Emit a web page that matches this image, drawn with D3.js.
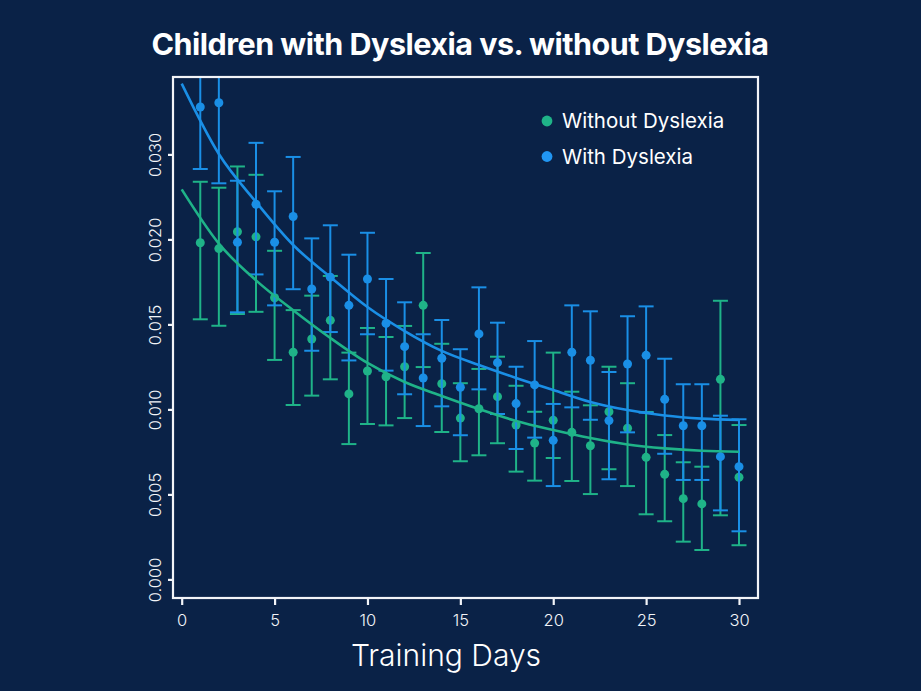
<!DOCTYPE html>
<html>
<head>
<meta charset="utf-8">
<script src="https://cdn.jsdelivr.net/npm/d3@7"></script>
<style>
  html, body { margin: 0; padding: 0; background: #0a2247; }
  svg { display: block; }
</style>
</head>
<body>
<svg id="chart" width="921" height="691"></svg>
<script>
// ---------- DATA ----------
const days = d3.range(1, 31);

// Children without dyslexia: mean, lower and upper error-bar ends
const withoutMean  = [0.01980,0.01946,0.02045,0.02015,0.01657,0.01336,0.01414,0.01524,0.01091,0.01226,
                      0.01192,0.01251,0.01612,0.01151,0.00949,0.01004,0.01075,0.00908,0.00802,0.00936,
                      0.00865,0.00786,0.00986,0.00889,0.00718,0.00618,0.00475,0.00444,0.01177,0.00601];
const withoutLower = [0.01530,0.01492,0.01561,0.01574,0.01291,0.01026,0.01081,0.01177,0.00796,0.00914,
                      0.00906,0.00949,0.01249,0.00867,0.00695,0.00730,0.00801,0.00634,0.00581,0.00714,
                      0.00579,0.00502,0.00648,0.00549,0.00383,0.00342,0.00222,0.00173,0.00377,0.00201];
const withoutUpper = [0.02339,0.02304,0.02429,0.02380,0.01933,0.01584,0.01669,0.01785,0.01334,0.01479,
                      0.01426,0.01491,0.01920,0.01386,0.01154,0.01238,0.01310,0.01139,0.00986,0.01334,
                      0.01104,0.01024,0.01251,0.01154,0.00985,0.00849,0.00689,0.00663,0.01639,0.00908];

// Children with dyslexia
const withMean  = [0.02779,0.02804,0.01983,0.02207,0.01983,0.02135,0.01708,0.01778,0.01612,0.01767,
                   0.01506,0.01369,0.01185,0.01301,0.01130,0.01444,0.01275,0.01034,0.01144,0.00818,
                   0.01336,0.01289,0.00934,0.01267,0.01318,0.01059,0.00904,0.00904,0.00722,0.00663];
const withLower = [0.02414,0.02330,0.01571,0.01794,0.01612,0.01707,0.01345,0.01455,0.01288,0.01442,
                   0.01228,0.01089,0.00902,0.01018,0.00848,0.01118,0.00973,0.00767,0.00834,0.00549,
                   0.01012,0.00939,0.00589,0.00865,0.00981,0.00739,0.00585,0.00585,0.00406,0.00283];
const withUpper = [0.03114,0.03202,0.02345,0.02568,0.02283,0.02485,0.02006,0.02083,0.01910,0.02039,
                   0.01767,0.01630,0.01442,0.01526,0.01354,0.01718,0.01510,0.01251,0.01402,0.01032,
                   0.01612,0.01577,0.01220,0.01548,0.01606,0.01298,0.01148,0.01148,0.00963,0.00942];

// Fitted trend curves, sampled every two days
const fitDays    = [0,2,4,6,8,10,12,14,16,18,20,22,24,26,28,30];
const withoutFit = [0.02294,0.01975,0.01759,0.01583,0.01420,0.01273,0.01161,0.01079,0.01002,0.00932,
                    0.00879,0.00832,0.00794,0.00771,0.00757,0.00751];
const withFit    = [0.02916,0.02502,0.02220,0.01967,0.01779,0.01602,0.01461,0.01344,0.01261,0.01185,
                    0.01114,0.01044,0.00996,0.00964,0.00946,0.00938];

// Axis ticks (labels exactly as printed on the reference)
const xTickValues = [0,5,10,15,20,25,30];
const yTickValues = [0,0.005,0.010,0.015,0.020,0.025];
const yTickLabels = ["0.000","0.005","0.010","0.015","0.020","0.030"];

const seriesNames = ["Without Dyslexia","With Dyslexia"];
const titleText = "Children with Dyslexia vs. without Dyslexia";
const xAxisTitle = "Training Days";

// ---------- LAYOUT / STYLE ----------
const W = 921, H = 691;
const frame = {left: 173, top: 77, right: 758, bottom: 598};
const colors = {bg: "#0a2247", green: "#1fb388", blue: "#1a8fe6", legendBlue: "#2196f3", text: "#ffffff", axis: "#f2f4f8"};
const fontFamily = "Inter, 'Noto Sans', Roboto, sans-serif";

const svg = d3.select("#chart");
svg.append("rect").attr("width", W).attr("height", H).attr("fill", colors.bg);

const x = d3.scaleLinear().domain([0, 30]).range([181.7, 739]);
const y = d3.scaleLinear().domain([0, 0.025]).range([579.4, 154.4]);

// Title
svg.append("text")
  .attr("x", 460).attr("y", 55)
  .attr("text-anchor", "middle")
  .attr("fill", colors.text)
  .attr("font-family", fontFamily)
  .attr("font-weight", 700)
  .attr("font-size", 30.5)
  .attr("letter-spacing", -0.5)
  .text(titleText);

// clip to the plot frame
svg.append("clipPath").attr("id", "plotClip")
  .append("rect")
  .attr("x", frame.left).attr("y", frame.top)
  .attr("width", frame.right - frame.left).attr("height", frame.bottom - frame.top);

const plot = svg.append("g").attr("clip-path", "url(#plotClip)");

const series = [
  {name: seriesNames[0], color: colors.green, legend: colors.green, mean: withoutMean, lo: withoutLower, hi: withoutUpper, fit: withoutFit},
  {name: seriesNames[1], color: colors.blue,  legend: colors.legendBlue, mean: withMean, lo: withLower, hi: withUpper, fit: withFit}
];

const capHalf = 7.5;
series.forEach(s => {
  const g = plot.append("g");
  const rows = days.map((d, i) => ({d, m: s.mean[i], lo: s.lo[i], hi: s.hi[i]}));
  g.selectAll("line.v").data(rows).join("line")
    .attr("x1", r => x(r.d)).attr("x2", r => x(r.d))
    .attr("y1", r => y(r.lo)).attr("y2", r => y(r.hi))
    .attr("stroke", s.color).attr("stroke-width", 2);
  g.selectAll("line.lo").data(rows).join("line")
    .attr("x1", r => x(r.d) - capHalf).attr("x2", r => x(r.d) + capHalf)
    .attr("y1", r => y(r.lo)).attr("y2", r => y(r.lo))
    .attr("stroke", s.color).attr("stroke-width", 2);
  g.selectAll("line.hi").data(rows).join("line")
    .attr("x1", r => x(r.d) - capHalf).attr("x2", r => x(r.d) + capHalf)
    .attr("y1", r => y(r.hi)).attr("y2", r => y(r.hi))
    .attr("stroke", s.color).attr("stroke-width", 2);
  g.selectAll("circle").data(rows).join("circle")
    .attr("cx", r => x(r.d)).attr("cy", r => y(r.m)).attr("r", 4.5)
    .attr("fill", s.color);
});

// fitted curves
const line = d3.line().x(p => x(p[0])).y(p => y(p[1])).curve(d3.curveMonotoneX);
series.forEach(s => {
  plot.append("path")
    .datum(fitDays.map((d, i) => [d, s.fit[i]]))
    .attr("d", line)
    .attr("fill", "none")
    .attr("stroke", s.color)
    .attr("stroke-width", 2.6);
});

// frame
svg.append("rect")
  .attr("x", frame.left).attr("y", frame.top)
  .attr("width", frame.right - frame.left).attr("height", frame.bottom - frame.top)
  .attr("fill", "none").attr("stroke", colors.axis).attr("stroke-width", 2.2);

// x axis
const xAxis = svg.append("g")
  .attr("transform", `translate(0,${frame.bottom})`)
  .call(d3.axisBottom(x).tickValues(xTickValues).tickSize(7).tickPadding(9).tickFormat(d3.format("d")));
xAxis.select(".domain").remove();
xAxis.selectAll(".tick line").attr("stroke", colors.axis).attr("stroke-width", 2.2);
xAxis.selectAll(".tick text")
  .attr("fill", colors.axis).attr("font-family", fontFamily)
  .attr("font-size", 16.5).attr("font-weight", 300);

// y axis
const yAxis = svg.append("g")
  .attr("transform", `translate(${frame.left},0)`)
  .call(d3.axisLeft(y).tickValues(yTickValues).tickSize(5)
        .tickFormat((d, i) => yTickLabels[i]));
yAxis.select(".domain").remove();
yAxis.selectAll(".tick line").attr("stroke", colors.axis).attr("stroke-width", 2.2);
yAxis.selectAll(".tick text")
  .attr("transform", "rotate(-90)")
  .attr("x", 0).attr("y", -18).attr("dy", "0.35em")
  .attr("text-anchor", "middle")
  .attr("fill", colors.axis).attr("font-family", fontFamily)
  .attr("font-size", 16.5).attr("font-weight", 300);

// x axis title
svg.append("text")
  .attr("x", 446).attr("y", 666)
  .attr("text-anchor", "middle")
  .attr("fill", colors.text)
  .attr("font-family", fontFamily)
  .attr("font-size", 30).attr("font-weight", 300)
  .text(xAxisTitle);

// legend
const legend = svg.append("g").attr("transform", "translate(547,121)");
series.forEach((s, i) => {
  const g = legend.append("g").attr("transform", `translate(0,${i * 35.5})`);
  g.append("circle").attr("r", 5.4).attr("fill", s.legend);
  g.append("text").attr("x", 15).attr("dy", "0.35em")
    .attr("fill", colors.text).attr("font-family", fontFamily)
    .attr("font-size", 20.5).attr("font-weight", 400)
    .text(s.name);
});
</script>
</body>
</html>
